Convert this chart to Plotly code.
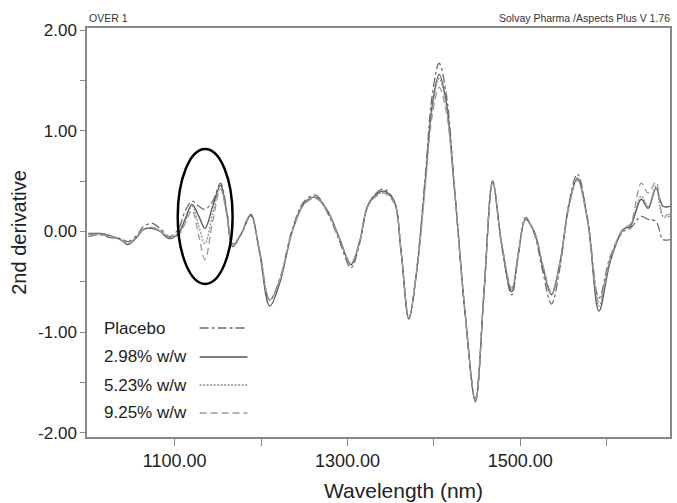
import plotly.graph_objects as go

# Wavelength grid (nm) shared by the four second-derivative spectra
wavelength = [1000, 1013, 1025, 1037, 1046, 1056, 1064, 1074, 1083, 1094,
              1104, 1112, 1120, 1128, 1135, 1144, 1153, 1160, 1167, 1177,
              1188, 1198, 1210, 1222, 1236, 1250, 1263, 1276, 1290, 1304,
              1314, 1323, 1332, 1342, 1354, 1362, 1371, 1380, 1390, 1398,
              1406, 1414, 1424, 1436, 1448, 1458, 1468, 1478, 1490, 1498,
              1506, 1516, 1526, 1536, 1546, 1556, 1566, 1578, 1591, 1604,
              1619, 1627, 1640, 1648, 1657, 1665, 1673]

placebo = [-0.05, -0.03, -0.06, -0.07, -0.10, -0.04, 0.05, 0.08, 0.03, -0.05,
           0.02, 0.20, 0.30, 0.25, 0.22, 0.30, 0.48, 0.22, -0.12, -0.03,
           0.16, -0.18, -0.68, -0.46, 0.02, 0.30, 0.36, 0.20, -0.08, -0.36,
           -0.12, 0.24, 0.37, 0.42, 0.30, -0.20, -0.86, -0.38, 0.55, 1.35,
           1.67, 1.38, 0.42, -0.82, -1.66, -0.58, 0.50, -0.12, -0.63, -0.22,
           0.14, -0.02, -0.40, -0.72, -0.35, 0.27, 0.57, 0.12, -0.66, -0.25,
           0.00, 0.03, 0.15, 0.12, 0.10, -0.08, -0.08]

ww_298 = [-0.02, -0.02, -0.04, -0.08, -0.13, -0.06, 0.02, 0.03, 0.00, -0.07,
          -0.02, 0.12, 0.27, 0.15, 0.03, 0.25, 0.46, 0.20, -0.15, -0.02,
          0.17, -0.20, -0.74, -0.50, 0.00, 0.28, 0.34, 0.22, -0.05, -0.33,
          -0.10, 0.25, 0.36, 0.40, 0.30, -0.20, -0.87, -0.40, 0.50, 1.25,
          1.56, 1.30, 0.40, -0.80, -1.69, -0.60, 0.50, -0.10, -0.60, -0.20,
          0.12, 0.00, -0.35, -0.63, -0.30, 0.25, 0.53, 0.10, -0.79, -0.30,
          0.02, 0.05, 0.32, 0.23, 0.43, 0.25, 0.25]

ww_523 = [-0.03, -0.02, -0.04, -0.08, -0.12, -0.05, 0.02, 0.04, 0.01, -0.06,
          -0.03, 0.10, 0.25, 0.05, -0.12, 0.18, 0.45, 0.19, -0.14, -0.02,
          0.16, -0.18, -0.68, -0.47, 0.00, 0.28, 0.34, 0.21, -0.06, -0.32,
          -0.10, 0.24, 0.35, 0.39, 0.29, -0.20, -0.86, -0.40, 0.48, 1.22,
          1.52, 1.27, 0.40, -0.80, -1.68, -0.60, 0.49, -0.10, -0.58, -0.20,
          0.12, 0.00, -0.34, -0.62, -0.30, 0.24, 0.52, 0.10, -0.74, -0.28,
          0.02, 0.06, 0.35, 0.25, 0.45, 0.15, 0.15]

ww_925 = [-0.03, -0.03, -0.05, -0.08, -0.12, -0.05, 0.02, 0.04, 0.00, -0.06,
          -0.04, 0.08, 0.21, -0.05, -0.28, 0.10, 0.42, 0.18, -0.14, -0.02,
          0.15, -0.18, -0.68, -0.47, 0.00, 0.27, 0.33, 0.21, -0.06, -0.31,
          -0.10, 0.24, 0.34, 0.38, 0.28, -0.20, -0.85, -0.40, 0.45, 1.15,
          1.43, 1.20, 0.38, -0.80, -1.67, -0.60, 0.48, -0.10, -0.56, -0.20,
          0.11, 0.00, -0.33, -0.60, -0.30, 0.24, 0.51, 0.10, -0.70, -0.27,
          0.03, 0.07, 0.48, 0.38, 0.49, 0.17, 0.17]

legend_labels = ["Placebo", "2.98% w/w", "5.23% w/w", "9.25% w/w"]
series = [placebo, ww_298, ww_523, ww_925]
dashes = ["dashdot", "solid", "2px,1.5px", "7px,4px"]
colors = ["#6e6e6e", "#555555", "#8a8a8a", "#9a9a9a"]

xtick_vals = [1100, 1200, 1300, 1400, 1500, 1600]
xtick_text = ["1100.00", "", "1300.00", "", "1500.00", ""]
ytick_vals = [-2.0, -1.5, -1.0, -0.5, 0.0, 0.5, 1.0, 1.5, 2.0]
ytick_text = ["-2.00", "", "-1.00", "", "0.00", "", "1.00", "", "2.00"]

FONT = "Liberation Sans, Arial, sans-serif"

fig = go.Figure()
for name, ys, dash, col in zip(legend_labels, series, dashes, colors):
    fig.add_trace(go.Scatter(
        x=wavelength, y=ys, mode="lines", name=name,
        line=dict(color=col, width=1.3, dash=dash, shape="spline", smoothing=1.0),
        showlegend=False,
    ))

# Highlight ellipse around the 1100-1170 nm band
fig.add_shape(type="circle", xref="x", yref="y",
              x0=1103.5, x1=1167, y0=-0.52, y1=0.82,
              line=dict(color="black", width=2.5))

# Hand-drawn legend: label on the left, line sample on the right
row_y = [0.2665, 0.1956, 0.1271, 0.0587]
for label, ry, dash, col in zip(legend_labels, row_y, dashes, colors):
    fig.add_annotation(xref="paper", yref="paper", x=0.0256, y=ry,
                       text=label, showarrow=False, xanchor="left",
                       yanchor="middle", font=dict(family=FONT, size=17, color="#222"))
    fig.add_shape(type="line", xref="paper", yref="paper",
                  x0=0.1932, x1=0.2752, y0=ry, y1=ry,
                  line=dict(color=col, width=1.3, dash=dash))

# Header captions above the frame
fig.add_annotation(xref="paper", yref="paper", x=0.0, y=1.0, yshift=2,
                   text="OVER 1", showarrow=False, xanchor="left", yanchor="bottom",
                   font=dict(family=FONT, size=10.5, color="#333"))
fig.add_annotation(xref="paper", yref="paper", x=1.0, y=1.0, yshift=2, xshift=2,
                   text="Solvay Pharma /Aspects Plus V 1.76", showarrow=False,
                   xanchor="right", yanchor="bottom",
                   font=dict(family=FONT, size=10.5, color="#333"))

# X-axis title, placed slightly right of the plot centre
fig.add_annotation(xref="paper", yref="paper", x=0.5436, y=0, yshift=-53,
                   text="Wavelength (nm)", showarrow=False, xanchor="center",
                   yanchor="middle", font=dict(family=FONT, size=21, color="#222"))

fig.update_layout(
    width=677, height=503,
    margin=dict(l=87, r=5, t=28, b=66),
    paper_bgcolor="white", plot_bgcolor="white",
    font=dict(family=FONT, color="#222"),
    xaxis=dict(
        range=[998.5, 1673.2], tickmode="array", tickvals=xtick_vals,
        ticktext=xtick_text, ticks="outside", ticklen=7, tickcolor="#888",
        showline=True, linecolor="#888", linewidth=1.5, mirror=True,
        showgrid=False, zeroline=False,
        tickfont=dict(family=FONT, size=18, color="#222"),
    ),
    yaxis=dict(
        range=[-2.04, 2.02], tickmode="array", tickvals=ytick_vals,
        ticktext=ytick_text, ticks="outside", ticklen=5, tickcolor="#888",
        showline=True, linecolor="#888", linewidth=1.5, mirror=True,
        showgrid=False, zeroline=False,
        tickfont=dict(family=FONT, size=17, color="#222"),
        title=dict(text="2nd derivative", font=dict(family=FONT, size=20, color="#222"),
                   standoff=6),
    ),
)

fig.write_html("out.html")
